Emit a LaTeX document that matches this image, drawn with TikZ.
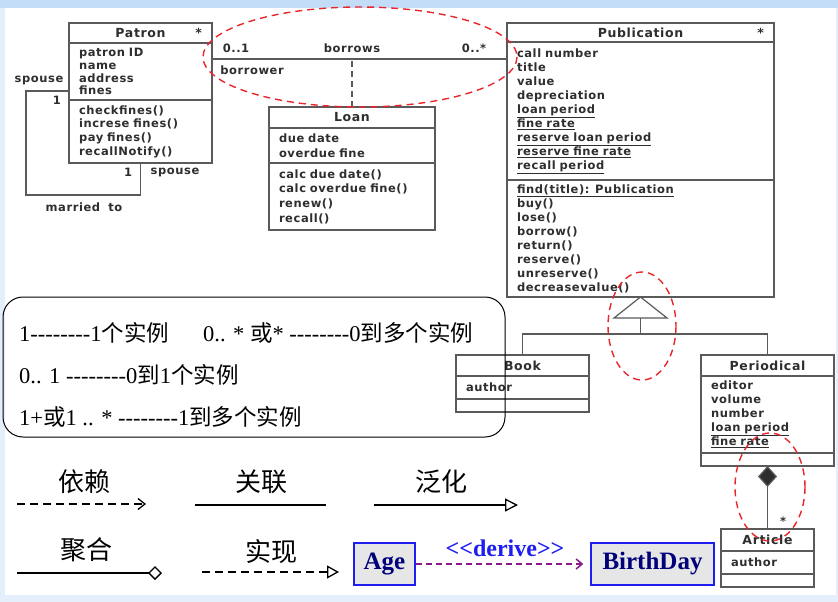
\documentclass[tikz,border=0pt]{standalone}
\usepackage{fontspec}
\usepackage{tikz}
\usepackage{xcolor}
\usetikzlibrary{arrows.meta,positioning}
\setmainfont{Liberation Serif}[Ligatures=TeXOff]
\newfontfamily\cjk{Noto Sans CJK SC}
\newfontfamily\umlfam{DejaVu Sans}[LetterSpace=5,WordSpace=1.8]
\definecolor{umlline}{HTML}{5A5A5A}
\definecolor{umltext}{HTML}{2E2E2E}
\definecolor{hired}{HTML}{E8262B}
\definecolor{typeblue}{HTML}{1E1EF0}
\definecolor{typenavy}{HTML}{00007A}
\definecolor{typefill}{HTML}{E6E6E6}
\definecolor{derivepurple}{HTML}{8A1A8A}
\definecolor{frameblue}{HTML}{C3DDF8}
\definecolor{framepale}{HTML}{E4EFFB}
\newcommand\zh[1]{{\cjk #1}}
\newcommand\umlbody{\umlfam\bfseries\fontsize{11.5}{14}\selectfont}
\newcommand\umlhead{\umlfam\bfseries\fontsize{12.5}{14}\selectfont}

\begin{document}
\begin{tikzpicture}[x=1pt,y=-1pt,node distance=0pt,
    cls/.style={draw=umlline,line width=1.2pt,fill=white,text=umltext,inner sep=0pt,outer sep=0pt},
    clshead/.style={cls,font=\umlhead,anchor=north west},
    clsbody/.style={cls,font=\umlbody,align=left,inner xsep=10pt},
    umllab/.style={text=umltext,font=\umlbody,inner sep=0pt},
    umlconn/.style={draw=umlline,line width=1.2pt},
    hilite/.style={draw=hired,line width=1.4pt,dash pattern=on 7pt off 5pt},
    legtext/.style={font=\fontsize{22.5}{26}\selectfont,inner sep=0pt,anchor=west},
    legtitle/.style={font=\cjk\fontsize{26}{30}\selectfont,inner sep=0pt},
    depline/.style={line width=1.3pt,dash pattern=on 8pt off 5pt,-{Straight Barb[length=7pt,width=11pt]}},
    assocline/.style={line width=1.6pt},
    genline/.style={line width=1.3pt,-{Triangle[open,length=13pt,width=13pt]}},
    aggline/.style={line width=1.3pt,-{Diamond[open,length=14pt,width=14pt]}},
    realline/.style={line width=1.3pt,dash pattern=on 8pt off 5pt,-{Triangle[open,length=12pt,width=13pt]}},
    typebox/.style={draw=typeblue,line width=1.5pt,fill=typefill,text=typenavy,font=\bfseries\fontsize{25}{26}\selectfont,minimum height=42pt,inner sep=0pt}]
  % frame
  \fill[framepale] (0,0) rectangle (838,602);
  \fill[frameblue] (0,0) rectangle (838,8);
  \fill[white] (5,8) rectangle (836,595);
  \useasboundingbox (0,0) rectangle (838,602);

  % classes
  \node[clshead,minimum width=143pt,minimum height=20pt] (patron) at (69,23) {Patron};
  \node[umllab,font=\umlhead,left=10pt of patron.east] (patronstar) {*};
  \node[clsbody,below=of patron,text width=123pt,minimum height=57pt,font=\umlfam\bfseries\fontsize{11.5}{12.8}\selectfont] (patronattr) {patron ID\\name\\address\\fines};
  \node[clsbody,below=of patronattr,text width=123pt,minimum height=63pt,font=\umlfam\bfseries\fontsize{11.5}{13.7}\selectfont] (patronops) {checkfines()\\increse fines()\\pay fines()\\recallNotify()};

  \node[clshead,minimum width=166pt,minimum height=21pt] (loan) at (269,107) {Loan};
  \node[clsbody,below=of loan,text width=146pt,minimum height=35pt,font=\umlfam\bfseries\fontsize{11.5}{14.7}\selectfont] (loanattr) {due date\\overdue fine};
  \node[clsbody,below=of loanattr,text width=146pt,minimum height=67pt,font=\umlfam\bfseries\fontsize{11.5}{14.7}\selectfont] (loanops) {calc due date()\\calc overdue fine()\\renew()\\recall()};

  \node[clshead,minimum width=267pt,minimum height=19pt] (pub) at (507,23) {Publication};
  \node[umllab,font=\umlhead,left=10pt of pub.east] (pubstar) {*};
  \node[clsbody,below=of pub,text width=247pt,minimum height=138pt] (pubattr) {call number\\title\\value\\depreciation\\\underline{loan period}\\\underline{fine rate}\\\underline{reserve loan period}\\\underline{reserve fine rate}\\\underline{recall period}};
  \node[clsbody,below=of pubattr,text width=247pt,minimum height=117pt] (pubops) {\underline{find(title): Publication}\\buy()\\lose()\\borrow()\\return()\\reserve()\\unreserve()\\decreasevalue()};

  \node[clshead,minimum width=133pt,minimum height=21pt] (book) at (456,355) {Book};
  \node[clsbody,below=of book,text width=113pt,minimum height=23pt] (bookattr) {author};
  \node[clsbody,below=of bookattr,text width=113pt,minimum height=13pt] (bookops) {};

  \node[clshead,minimum width=133pt,minimum height=21pt] (periodical) at (701,355) {Periodical};
  \node[clsbody,below=of periodical,text width=113pt,minimum height=77pt] (periodicalattr) {editor\\volume\\number\\\underline{loan period}\\\underline{fine rate}};
  \node[clsbody,below=of periodicalattr,text width=113pt,minimum height=13pt] (periodicalops) {};

  \node[clshead,minimum width=93pt,minimum height=22pt] (article) at (721,529) {Article};
  \node[clsbody,below=of article,text width=73pt,minimum height=23pt] (articleattr) {author};
  \node[clsbody,below=of articleattr,text width=73pt,minimum height=13pt] (articleops) {};

  % associations
  \coordinate (bw) at ([yshift=-16pt]patronattr.north east);
  \draw[umlconn] (bw) -- (bw -| pubattr.west);
  \draw[umlconn,dash pattern=on 6pt off 4pt] (loan.north) -- (loan.north |- bw);
  \node[umllab] (mulpatron) at (236,48) {0..1};
  \node[umllab] (borrows) at (352,48) {borrows};
  \node[umllab] (mulpub) at (474,48) {0..*};
  \node[umllab] (borrower) at (252,70) {borrower};

  \coordinate (sp) at ([yshift=-48pt]patronattr.north west);
  \draw[umlconn] (sp) -- ++(-43,0) |- ([yshift=-32pt]patronops.south) -- (patronops.south);
  \node[umllab] (spousea) at (39,80) {spouse};
  \node[umllab] (onea) at (57,100) {1};
  \node[umllab] (oneb) at (128,172) {1};
  \node[umllab] (spouseb) at (175,172) {spouse};
  \node[umllab] (married) at (84,207) {married to};

  % generalisation and composition
  \draw[umlconn,fill=white] (pubops.south) -- ++(-26.5,21) -- ++(53,0) -- cycle;
  \coordinate (gb) at ([yshift=-21pt]pubops.south);
  \draw[umlconn] (gb) -- ++(0,16) coordinate (gj);
  \draw[umlconn] (book.north) |- (gj) -| (periodical.north);
  \draw[umlconn,{Diamond[length=21pt,width=19pt,fill=umltext]}-] (periodicalops.south) -- (article.north);
  \node[umllab] (artstar) at (783,521) {*};

  % multiplicities
  \node[draw,line width=1pt,rounded corners=20pt,minimum width=502pt,minimum height=140pt] (legend) at (254,367) {};
  \node[legtext] (mult1) at (19,333) {1--------1\zh{个实例}};
  \node[legtext] (mult2) at (203,333) {0.. * \zh{或}* --------0\zh{到多个实例}};
  \node[legtext] (mult3) at (19,375) {0.. 1 --------0\zh{到}1\zh{个实例}};
  \node[legtext] (mult4) at (19,417) {1+\zh{或}1 .. * --------1\zh{到多个实例}};

  % relation kinds
  \foreach \lab/\x/\y/\xa/\xb/\ly/\kind in {依赖/84/482/17/146/504/depline,关联/261/482/195/326/505/assocline,泛化/441/482/374/518/505/genline,聚合/86/550/17/162/573/aggline,实现/271/552/202/339/572/realline}
  {
    \node[legtitle] (\kind-title) at (\x,\y) {\lab};
    \coordinate (\kind-from) at (\xa,\ly);
    \coordinate (\kind-to) at (\xb,\ly);
    \draw[\kind] (\kind-from) -- (\kind-to);
  }

  \node[typebox,minimum width=61pt] (age) at (384.5,564) {Age};
  \node[typebox,minimum width=123pt] (birthday) at (652.5,564) {BirthDay};
  \draw[draw=derivepurple,line width=1.5pt,dash pattern=on 6pt off 4pt,-{Straight Barb[length=6pt,width=10pt]},shorten >=7pt] (age.east) -- (birthday.west);
  \node[font=\bfseries\fontsize{24}{25}\selectfont,text=typeblue,inner sep=0pt] (derive) at (505,548) {<<derive>>};

  % highlights
  \draw[hilite] (360,57) ellipse [x radius=157,y radius=50];
  \draw[hilite] (642,326) ellipse [x radius=34,y radius=54];
  \draw[hilite] (770,487) ellipse [x radius=35,y radius=54];
\end{tikzpicture}
\end{document}
